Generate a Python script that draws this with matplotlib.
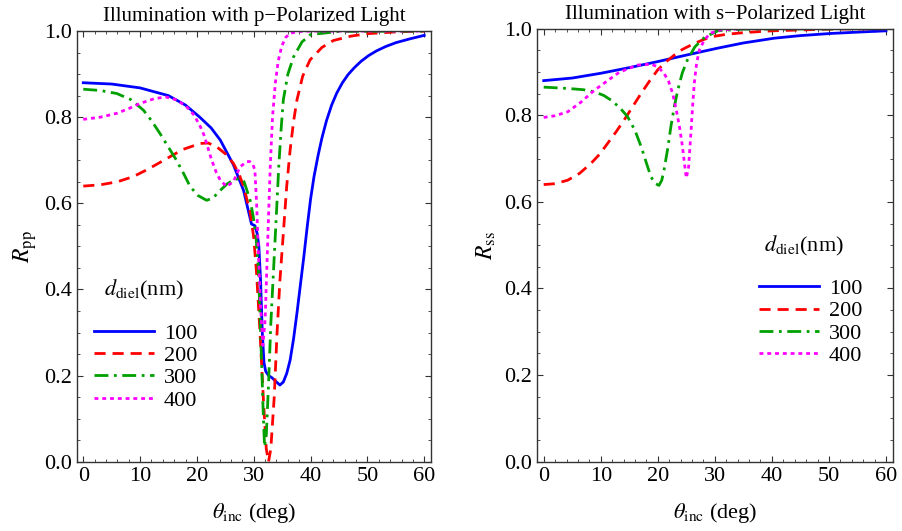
import numpy as np
import matplotlib.pyplot as plt
from matplotlib.ticker import MultipleLocator

plt.rcParams['font.family'] = ['Liberation Serif', 'DejaVu Serif']
plt.rcParams['mathtext.fontset'] = 'stix'

# ---- p-polarized (left) ----
p_100_x = [0, 5, 10, 15, 18, 20.5, 22.5, 24.1, 26.4, 28.2, 29.6, 30.2, 30.6, 30.9, 31.2, 31.5, 31.8, 32.1, 32.6, 33.2, 34.0, 34.6,
           35.2, 35.8, 36.4, 37.0, 37.6, 38.2, 38.8, 39.4, 40.0, 40.6, 41.3, 42.0, 42.8, 43.7, 44.6, 45.6, 46.6, 47.7, 48.9, 50.2, 51.6, 53.2, 55.0, 57.5, 60]
p_100_y = [0.880, 0.877, 0.868, 0.850, 0.828, 0.800, 0.775, 0.747, 0.690, 0.630, 0.552, 0.548, 0.530, 0.500, 0.420, 0.300, 0.230, 0.210, 0.200, 0.195, 0.185, 0.178,
           0.185, 0.205, 0.236, 0.285, 0.345, 0.410, 0.475, 0.545, 0.610, 0.662, 0.710, 0.752, 0.792, 0.828, 0.856, 0.880, 0.899, 0.915, 0.930, 0.943, 0.954, 0.964, 0.973, 0.982, 0.990]

p_200_x = [0, 3, 6, 8.8, 11.5, 14.7, 17.5, 20.6, 22, 23.5, 25, 26.4, 27.4, 28.2, 29.4, 30.0, 30.5, 31.1, 31.7, 32.2, 32.6, 33.0, 33.6,
           34.1, 34.6, 35.2, 35.8, 36.4, 37.0, 37.6, 38.6, 39.9, 42, 44, 47, 50, 55, 60]
p_200_y = [0.640, 0.643, 0.650, 0.662, 0.680, 0.704, 0.725, 0.739, 0.740, 0.731, 0.715, 0.693, 0.668, 0.640, 0.577, 0.520, 0.437, 0.300, 0.143, 0.030, 0.000, 0.030, 0.150,
           0.300, 0.420, 0.530, 0.640, 0.724, 0.790, 0.840, 0.895, 0.933, 0.962, 0.978, 0.988, 0.994, 0.998, 1.000]

p_300_x = [0, 3, 5.9, 8.5, 10.6, 12, 13.5, 15, 16.4, 17.7, 18.8, 20.2, 21.7, 22.8, 24.1, 25.3, 26.4, 27.6, 28.3, 28.8, 29.4, 29.9, 30.4,
           30.8, 31.1, 31.4, 31.7, 31.9, 32.2, 32.6, 33.0, 33.5, 34.0, 34.4, 34.8, 35.2, 36.0, 37.0, 38.5, 40, 45, 60]
p_300_y = [0.865, 0.862, 0.855, 0.840, 0.816, 0.792, 0.762, 0.730, 0.700, 0.668, 0.639, 0.618, 0.607, 0.612, 0.630, 0.645, 0.654, 0.658, 0.650, 0.630, 0.605, 0.570, 0.520,
           0.450, 0.340, 0.220, 0.100, 0.035, 0.060, 0.180, 0.320, 0.450, 0.580, 0.685, 0.770, 0.840, 0.900, 0.940, 0.975, 0.992, 0.999, 1.000]

p_400_x = [0, 3, 5.9, 8, 10, 12.5, 14.5, 16.5, 18.2, 19.5, 20.6, 21.2, 21.7, 22.6, 23.4, 24.1, 25.2, 26.4, 27.6, 28.8, 29.3, 29.8, 30.2,
           30.5, 30.8, 31.2, 31.6, 32.0, 32.3, 32.6, 32.9, 33.3, 33.8, 34.3, 34.9, 35.6, 36.4, 38, 40, 60]
p_400_y = [0.795, 0.800, 0.809, 0.820, 0.832, 0.843, 0.847, 0.840, 0.824, 0.805, 0.778, 0.760, 0.739, 0.700, 0.672, 0.654, 0.639, 0.650, 0.685, 0.697, 0.697, 0.692, 0.677,
           0.600, 0.490, 0.360, 0.270, 0.330, 0.450, 0.570, 0.685, 0.800, 0.880, 0.930, 0.964, 0.985, 0.995, 0.999, 1.000, 1.000]

# ---- s-polarized (right) ----
s_100_x = [0, 5, 10, 15, 20, 25, 30.5, 35, 40.4, 45, 50.4, 55, 60]
s_100_y = [0.880, 0.886, 0.897, 0.910, 0.924, 0.939, 0.955, 0.967, 0.978, 0.984, 0.989, 0.992, 0.995]

s_200_x = [0, 2, 4.2, 6.3, 8.3, 9.8, 11.2, 12.7, 14.1, 15.6, 17.1, 18.6, 20, 21.5, 22.9, 24.3, 25.8, 27.5, 29.3, 32, 35.2, 40, 45, 50, 60]
s_200_y = [0.640, 0.642, 0.650, 0.666, 0.689, 0.710, 0.735, 0.762, 0.789, 0.820, 0.851, 0.880, 0.905, 0.924, 0.939, 0.952, 0.962, 0.972, 0.981, 0.987, 0.991, 0.995, 0.997, 0.999, 1.000]

s_300_x = [0, 4.2, 7, 8.9, 10.5, 11.8, 13.3, 14.7, 16, 17.1, 18.0, 18.8, 19.5, 20.2, 20.7, 21.1, 21.7, 22.3, 22.9, 23.5, 24.3, 25.2, 26.5, 28.2, 30.5, 35, 60]
s_300_y = [0.865, 0.862, 0.859, 0.854, 0.846, 0.835, 0.818, 0.797, 0.765, 0.727, 0.690, 0.658, 0.643, 0.638, 0.650, 0.674, 0.720, 0.774, 0.820, 0.858, 0.898, 0.928, 0.958, 0.980, 0.995, 0.999, 1.000]

s_400_x = [0, 2, 4.2, 6.5, 8.9, 11, 13, 14.8, 16.5, 18.8, 20, 21.1, 21.9, 22.6, 23.2, 23.8, 24.3, 24.6, 25.0, 25.4, 25.8, 26.1, 26.4, 26.8, 27.3, 28.2, 29.3, 31, 35, 60]
s_400_y = [0.795, 0.799, 0.808, 0.830, 0.858, 0.878, 0.897, 0.908, 0.916, 0.918, 0.912, 0.897, 0.878, 0.851, 0.815, 0.774, 0.730, 0.697, 0.655, 0.680, 0.758, 0.820, 0.874, 0.920, 0.951, 0.975, 0.990, 0.997, 1.000, 1.000]

labels = ['100', '200', '300', '400']
colors = ['#0000ff', '#ff0000', '#00a000', '#ff00ff']
styles = ['-', (0, (4, 2.5)), (0, (5, 2, 1, 2)), (0, (1.4, 1.4))]

fig = plt.figure(figsize=(9.02, 5.31), dpi=100)
axL = fig.add_axes([0.0854, 0.1305, 0.3925, 0.811])
axR = fig.add_axes([0.595, 0.1305, 0.3953, 0.8155])

p_data = [(p_100_x, p_100_y), (p_200_x, p_200_y), (p_300_x, p_300_y), (p_400_x, p_400_y)]
s_data = [(s_100_x, s_100_y), (s_200_x, s_200_y), (s_300_x, s_300_y), (s_400_x, s_400_y)]

for ax, data in [(axL, p_data), (axR, s_data)]:
    for (x, y), lab, c, ls in zip(data, labels, colors, styles):
        ax.plot(x, y, color=c, linestyle=ls, lw=2, label=lab)
    ax.set_ylim(0, 1)
    ax.xaxis.set_major_locator(MultipleLocator(10))
    ax.xaxis.set_minor_locator(MultipleLocator(2))
    ax.yaxis.set_major_locator(MultipleLocator(0.2))
    ax.yaxis.set_minor_locator(MultipleLocator(0.05))
    ax.yaxis.set_major_formatter(plt.FuncFormatter(lambda v, p: '%.1f' % v))
    ax.tick_params(which='both', direction='in', top=True, right=True, labelsize=16, color='#333333')
    ax.tick_params(which='major', length=4, width=0.8)
    ax.tick_params(which='minor', length=2, width=0.6)
    for sp in ax.spines.values():
        sp.set_color('#333333')
        sp.set_linewidth(1)
    ax.set_xlabel(r'$\theta_{\rm inc}$ (deg)', fontsize=16, labelpad=11)

axL.set_xlim(-1.1, 61.2)
axR.set_xlim(-1.23, 61.28)

axL.set_ylabel(r'$R_{\rm pp}$', fontsize=17, labelpad=4)
axR.set_ylabel(r'$R_{\rm ss}$', fontsize=17, labelpad=4)
axL.set_title('Illumination with p\u2212Polarized Light', fontsize=15, pad=7)
axR.set_title('Illumination with s\u2212Polarized Light', fontsize=15, pad=7)

legkw = dict(frameon=False, fontsize=16, handlelength=2.7, handletextpad=0.45,
             labelspacing=0.08, borderpad=0, borderaxespad=0, loc='upper left')
axL.legend(bbox_to_anchor=(0.048, 0.322), **legkw)
axR.legend(bbox_to_anchor=(0.623, 0.423), **legkw)
axL.text(0.19, 0.399, r'$d_{\rm diel}$(nm)', transform=axL.transAxes, fontsize=16, ha='center', va='center')
axR.text(0.75, 0.498, r'$d_{\rm diel}$(nm)', transform=axR.transAxes, fontsize=16, ha='center', va='center')

fig.savefig('out.png', dpi=100)
